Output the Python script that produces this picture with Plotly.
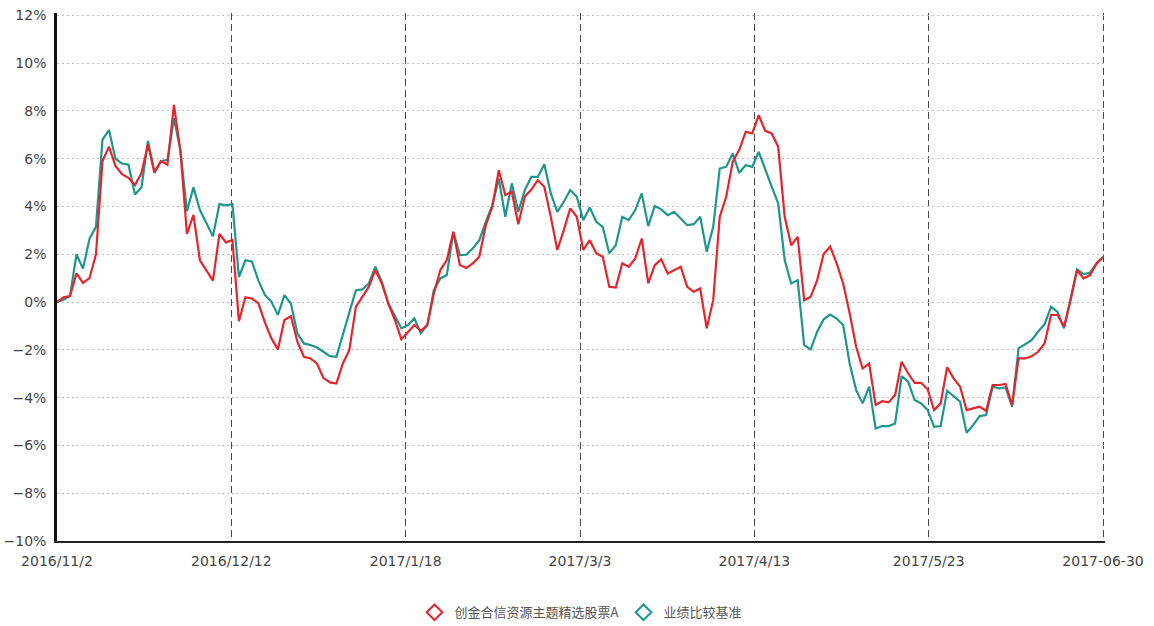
import plotly.graph_objects as go

# Cumulative return (%) per trading day, 2016/11/2 .. 2017/06/30
fund = [0, 0.2, 0.25, 1.2, 0.8, 1.0, 2.0, 5.9, 6.5, 5.7, 5.35, 5.2, 4.9, 5.4, 6.6, 5.45, 5.9, 5.75, 8.25, 6.3,
        2.85, 3.65, 1.75, 1.35, 0.9, 2.85, 2.5, 2.6, -0.8, 0.2, 0.15, -0.05, -0.85, -1.52, -1.98, -0.75, -0.59,
        -1.66, -2.29, -2.36, -2.57, -3.17, -3.36, -3.41, -2.57, -2.0, -0.2, 0.22, 0.64, 1.34, 0.78, -0.06, -0.75,
        -1.56, -1.24, -0.96, -1.2, -0.96, 0.36, 1.34, 1.76, 2.94, 1.55, 1.43, 1.62, 1.90, 3.22, 3.99, 5.52, 4.48,
        4.62, 3.26, 4.41, 4.71, 5.10, 4.83, 3.57, 2.18, 3.01, 3.92, 3.57, 2.18, 2.59, 2.04, 1.90, 0.64, 0.61, 1.62,
        1.48, 1.83, 2.66, 0.78, 1.55, 1.79, 1.20, 1.34, 1.48, 0.64, 0.43, 0.57, -1.10, 0.08, 3.57, 4.41, 5.87,
        6.36, 7.13, 7.06, 7.82, 7.17, 7.06, 6.50, 3.57, 2.38, 2.73, 0.08, 0.22, 0.92, 2.01, 2.32, 1.62, 0.78,
        -0.47, -1.87, -2.78, -2.57, -4.31, -4.15, -4.2, -3.89, -2.50, -2.98, -3.38, -3.38, -3.65, -4.52, -4.24,
        -2.73, -3.19, -3.54, -4.52, -4.45, -4.38, -4.55, -3.47, -3.47, -3.43, -4.31, -2.36, -2.36, -2.27, -2.08,
        -1.73, -0.54, -0.54, -1.03, 0.08, 1.34, 0.99, 1.13, 1.62, 1.87]

bench = [0, 0.1, 0.25, 2.0, 1.4, 2.65, 3.15, 6.8, 7.2, 6.0, 5.8, 5.75, 4.5, 4.8, 6.75, 5.4, 5.9, 5.95, 7.7, 6.35,
         3.8, 4.8, 3.85, 3.3, 2.75, 4.1, 4.05, 4.1, 1.05, 1.75, 1.7, 0.9, 0.3, 0.01, -0.54, 0.29, -0.06, -1.31,
         -1.73, -1.8, -1.9, -2.08, -2.26, -2.29, -1.38, -0.4, 0.5, 0.53, 0.78, 1.48, 0.85, -0.06, -0.61, -1.1,
         -0.96, -0.68, -1.3, -0.96, 0.5, 0.99, 1.13, 2.94, 1.97, 1.98, 2.25, 2.59, 3.36, 4.06, 5.17, 3.57, 4.97,
         3.78, 4.69, 5.24, 5.24, 5.77, 4.55, 3.78, 4.20, 4.69, 4.41, 3.43, 3.96, 3.36, 3.15, 2.04, 2.38, 3.57,
         3.43, 3.85, 4.55, 3.18, 4.02, 3.88, 3.64, 3.78, 3.50, 3.22, 3.26, 3.57, 2.11, 3.15, 5.59, 5.66, 6.22,
         5.41, 5.73, 5.66, 6.29, 5.52, 4.83, 4.13, 1.76, 0.78, 0.92, -1.80, -1.98, -1.24, -0.72, -0.52, -0.69,
         -0.96, -2.57, -3.68, -4.24, -3.54, -5.29, -5.19, -5.19, -5.08, -3.10, -3.33, -4.10, -4.24, -4.52, -5.22,
         -5.19, -3.71, -3.96, -4.17, -5.47, -5.15, -4.77, -4.73, -3.54, -3.61, -3.57, -4.38, -1.94, -1.76, -1.59,
         -1.24, -0.92, -0.20, -0.41, -1.1, 0.08, 1.37, 1.17, 1.23, 1.62, 1.90]

tick_labels = ["2016/11/2", "2016/12/12", "2017/1/18", "2017/3/3", "2017/4/13", "2017/5/23", "2017-06-30"]
series_names = ["创金合信资源主题精选股票A", "业绩比较基准"]

N = len(fund)
x = list(range(N))
tickvals = [k * (N - 1) / (len(tick_labels) - 1) for k in range(len(tick_labels))]

RED = "#e3262d"
TEAL = "#1e968d"

fig = go.Figure()
fig.add_trace(go.Scatter(x=x, y=bench, mode="lines", line=dict(color=TEAL, width=2.2), showlegend=False,
                         hoverinfo="skip"))
fig.add_trace(go.Scatter(x=x, y=fund, mode="lines", line=dict(color=RED, width=2.2), showlegend=False,
                         hoverinfo="skip"))
# legend entries (diamond markers)
fig.add_trace(go.Scatter(x=[None], y=[None], mode="markers", name=series_names[0],
                         marker=dict(symbol="diamond-open", size=10, color=RED, line=dict(width=2, color=RED))))
fig.add_trace(go.Scatter(x=[None], y=[None], mode="markers", name=series_names[1],
                         marker=dict(symbol="diamond-open", size=10, color=TEAL, line=dict(width=2, color=TEAL))))

fig.update_layout(
    width=1154, height=626,
    margin=dict(l=57, r=49, t=13, b=85, autoexpand=False),
    paper_bgcolor="white", plot_bgcolor="white",
    font=dict(family="DejaVu Sans", size=14, color="#444"),
    legend=dict(orientation="h", x=0.5, xanchor="center", y=-0.135, yanchor="middle",
                font=dict(family="Noto Sans CJK SC", size=13, color="#555"),
                itemsizing="constant"),
)
fig.update_xaxes(
    range=[0, (N - 1) + 0.3], tickmode="array", tickvals=tickvals, ticktext=tick_labels,
    showgrid=True, gridcolor="#4a4a4a", gridwidth=1, griddash="7px,4px",
    showline=True, linecolor="#222", linewidth=2, ticks="", zeroline=False,
    tickfont=dict(size=14, color="#444"), ticklabelstandoff=6, automargin=False,
)
fig.update_yaxes(
    range=[-10, 12.1], dtick=2, tick0=0, ticksuffix="%",
    showgrid=True, gridcolor="#bdbdbd", gridwidth=1, griddash="2px,3px",
    showline=True, linecolor="#111", linewidth=2.5, ticks="", zeroline=False,
    tickfont=dict(size=14, color="#444"), ticklabelstandoff=5, automargin=False,
    ticklabeloverflow="allow",
)

fig.write_html("out.html", config={"displayModeBar": False},
               post_script="document.body.style.margin='0px';document.body.style.overflow='hidden';")
